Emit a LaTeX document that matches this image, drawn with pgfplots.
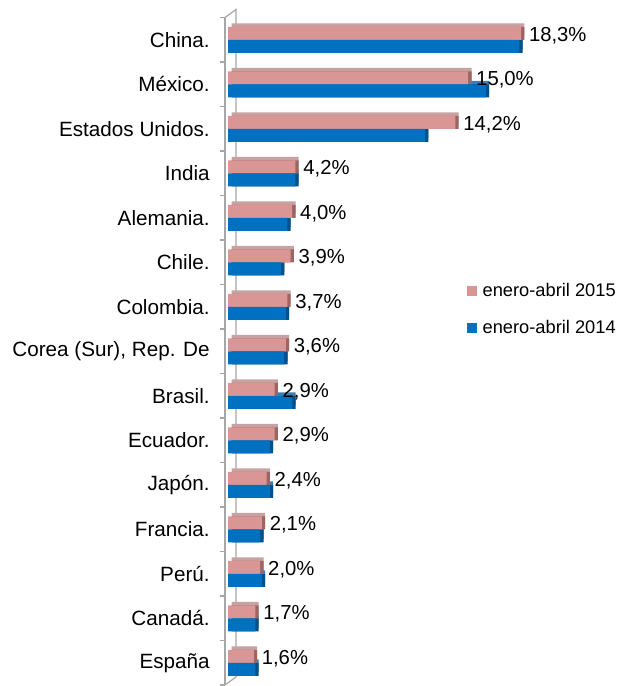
\documentclass[border=0pt]{standalone}
\usepackage{pgfplots}
\pgfplotsset{compat=1.18}
\usepackage{fontspec}
\setmainfont{Liberation Sans}
\definecolor{pinkF}{HTML}{D99694}
\definecolor{pinkT}{HTML}{C7A2A2}
\definecolor{pinkS}{HTML}{9E6462}
\definecolor{blueF}{HTML}{0070C0}
\definecolor{blueT}{HTML}{3A7DB8}
\definecolor{blueS}{HTML}{00508C}
\definecolor{axgray}{HTML}{A6A6A6}
\begin{document}
\begin{tikzpicture}
\useasboundingbox (0,0) rectangle (465pt,514.5pt);
\begin{axis}[
  at={(168.75pt,0.75pt)}, anchor=south west,
  scale only axis, width=288pt, height=500.6pt,
  xmin=-0.2, xmax=23.8, ymin=-0.5, ymax=14.5,
  axis x line=none, axis y line*=left,
  axis line style={axgray, line width=0.9pt},
  clip=false,
  xbar, bar width=9.75pt,
  ytick={0,...,14},
  yticklabels={España,Canadá.,Perú.,Francia.,Japón.,Ecuador.,Brasil.,{Corea (Sur), Rep. De},Colombia.,Chile.,Alemania.,India,Estados Unidos.,México.,China.},
  yticklabel style={font=\fontsize{15.5}{18}\selectfont, xshift=-8pt},
  major tick length=0pt,
  minor ytick={-0.5,0.5,...,14.5},
  minor tick length=3.75pt,
  tick align=outside,
  minor tick style={axgray, line width=0.9pt},
  legend style={at={(0.62,0.5625)}, anchor=west, draw=none, fill=none,
    font=\fontsize{13.7}{16}\selectfont, row sep=12pt,
    /tikz/every odd column/.append style={column sep=2pt}},
  legend cell align=left,
]
\draw[axgray, line width=0.9pt] (rel axis cs:0,1) -- ++(8.25pt,6pt) -- ([xshift=8.25pt,yshift=6pt]rel axis cs:0,0) -- (rel axis cs:0,0);
% depth faces
\addplot[forget plot, draw=none, fill=blueT, bar shift=-4.875pt, xshift=2.5pt, yshift=2.5pt] coordinates {
(18.2,14) (16.1,13) (12.3,12) (4.2,11) (3.7,10) (3.3,9) (3.6,8) (3.5,7) (4.0,6) (2.6,5) (2.6,4) (2.0,3) (2.1,2) (1.7,1) (1.7,0)};
\addplot[forget plot, draw=none, fill=blueS, bar shift=-4.875pt, xshift=2.5pt] coordinates {
(18.2,14) (16.1,13) (12.3,12) (4.2,11) (3.7,10) (3.3,9) (3.6,8) (3.5,7) (4.0,6) (2.6,5) (2.6,4) (2.0,3) (2.1,2) (1.7,1) (1.7,0)};
\addplot[forget plot, draw=none, fill=pinkT, bar shift=4.875pt, xshift=2.5pt, yshift=2.5pt] coordinates {
(18.3,14) (15.0,13) (14.2,12) (4.2,11) (4.0,10) (3.9,9) (3.7,8) (3.6,7) (2.9,6) (2.9,5) (2.4,4) (2.1,3) (2.0,2) (1.7,1) (1.6,0)};
\addplot[forget plot, draw=none, fill=pinkS, bar shift=4.875pt, xshift=2.5pt] coordinates {
(18.3,14) (15.0,13) (14.2,12) (4.2,11) (4.0,10) (3.9,9) (3.7,8) (3.6,7) (2.9,6) (2.9,5) (2.4,4) (2.1,3) (2.0,2) (1.7,1) (1.6,0)};
% front faces
\addplot[draw=none, fill=pinkF, bar shift=4.875pt,
  legend image code/.code={\fill[pinkF] (0pt,-3.75pt) rectangle (7.5pt,3.75pt);},
  point meta=x,
  nodes near coords={\pgfmathprintnumber[fixed,fixed zerofill,precision=1,use comma,assume math mode=true]{\pgfplotspointmeta}\%},
  nodes near coords align={horizontal},
  every node near coord/.append style={font=\fontsize{15.2}{18}\selectfont, black, anchor=west, xshift=2.5pt, yshift=-1.5pt}] coordinates {
(18.3,14) (15.0,13) (14.2,12) (4.2,11) (4.0,10) (3.9,9) (3.7,8) (3.6,7) (2.9,6) (2.9,5) (2.4,4) (2.1,3) (2.0,2) (1.7,1) (1.6,0)};
\addlegendentry{enero-abril 2015}
\addplot[draw=none, fill=blueF, bar shift=-4.875pt,
  legend image code/.code={\fill[blueF] (0pt,-3.75pt) rectangle (7.5pt,3.75pt);}] coordinates {
(18.2,14) (16.1,13) (12.3,12) (4.2,11) (3.7,10) (3.3,9) (3.6,8) (3.5,7) (4.0,6) (2.6,5) (2.6,4) (2.0,3) (2.1,2) (1.7,1) (1.7,0)};
\addlegendentry{enero-abril 2014}
\end{axis}
\end{tikzpicture}
\end{document}
